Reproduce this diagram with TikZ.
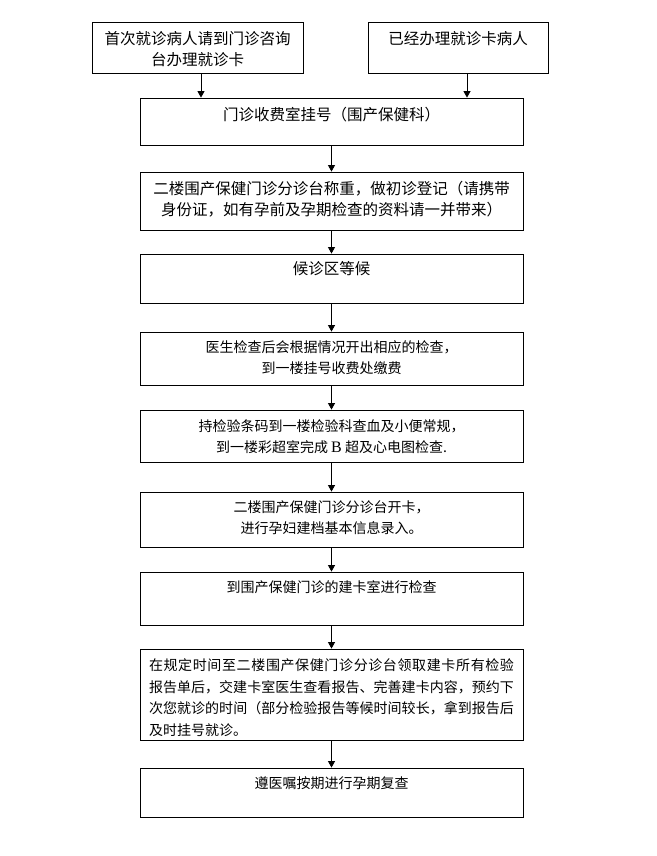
\documentclass[tikz,border=0pt]{standalone}
\usepackage{fontspec}
\setmainfont{Noto Sans CJK SC}
\newfontfamily\latinserif{Liberation Serif}
\usetikzlibrary{arrows.meta}
\newcommand\cjkjustify{\XeTeXlinebreaklocale "zh"\XeTeXlinebreakskip=0pt plus 3pt\relax}

\tikzset{
  stepbox/.style={draw, line width=0.8pt, minimum width=383pt, inner sep=0pt},
  bigtxt/.style={inner sep=0pt, anchor=north, align=center, font=\fontsize{15.5}{21}\selectfont},
  smalltxt/.style={inner sep=0pt, anchor=north, align=center, font=\fontsize{14}{21}\selectfont},
  arr/.style={-{Triangle[width=7pt,length=6.5pt]}, line width=0.8pt}
}

\begin{document}
\begin{tikzpicture}[x=1pt, y=-1pt]
	\useasboundingbox (0,0) rectangle (656,856);
	% the two ways in
	\node[draw, line width=0.8pt, minimum width=211pt, minimum height=51pt, inner sep=0pt] (first) at (197.5,47.5) {};
	\node[bigtxt] (first-t) at ([yshift=-10pt]first.north) {首次就诊病人请到门诊咨询\\台办理就诊卡};
	\node[draw, line width=0.8pt, minimum width=180pt, minimum height=51pt, inner sep=0pt] (repeat) at (458,47.5) {};
	\node[bigtxt] (repeat-t) at ([yshift=-10pt]repeat.north) {已经办理就诊卡病人};
	% main steps
	\node[stepbox, minimum height=47pt] (reg) at (331.5,121.5) {};
	\node[bigtxt] (reg-t) at ([yshift=-9pt]reg.north) {门诊收费室挂号（围产保健科）};
	\node[stepbox, minimum height=58pt] (weigh) at (331.5,201) {};
	\node[bigtxt] (weigh-t) at ([yshift=-9pt]weigh.north) {二楼围产保健门诊分诊台称重，做初诊登记（请携带\\身份证，如有孕前及孕期检查的资料请一并带来）};
	\node[stepbox, minimum height=49pt] (wait) at (331.5,278.5) {};
	\node[bigtxt] (wait-t) at ([yshift=-8pt]wait.north) {候诊区等候};
	\node[stepbox, minimum height=53pt] (pay) at (331.5,358.5) {};
	\node[smalltxt] (pay-t) at ([yshift=-9pt]pay.north) {医生检查后会根据情况开出相应的检查，\\到一楼挂号收费处缴费};
	\node[stepbox, minimum height=52pt] (test) at (331.5,436) {};
	\node[smalltxt] (test-t) at ([yshift=-10pt]test.north) {持检验条码到一楼检验科查血及小便常规，\\到一楼彩超室完成 {\latinserif\fontsize{16}{21}\selectfont B} 超及心电图检查.};
	\node[stepbox, minimum height=55pt] (card) at (331.5,519.5) {};
	\node[smalltxt] (card-t) at ([yshift=-9pt]card.north) {二楼围产保健门诊分诊台开卡，\\进行孕妇建档基本信息录入。};
	\node[stepbox, minimum height=53pt] (room) at (331.5,598.5) {};
	\node[smalltxt] (room-t) at ([yshift=-9pt]room.north) {到围产保健门诊的建卡室进行检查};
	\node[stepbox, minimum height=91pt] (report) at (331.5,694.5) {};
	\node[smalltxt, text width=365pt, align=justify, font=\fontsize{14}{21.5}\selectfont\cjkjustify] (report-t) at ([yshift=-10pt]report.north)
		{在规定时间至二楼围产保健门诊分诊台领取建卡所有检验\linebreak
		报告单后，交建卡室医生查看报告、完善建卡内容，预约下\linebreak
		次您就诊的时间（部分检验报告等候时间较长，拿到报告后\linebreak
		及时挂号就诊。};
	\node[stepbox, minimum height=49pt] (review) at (331.5,792.5) {};
	\node[smalltxt] (review-t) at ([yshift=-9pt]review.north) {遵医嘱按期进行孕期复查};
	% arrows
	\draw[arr] ([xshift=3.5pt]first.south) -- ([xshift=3.5pt]first.south |- reg.north);
	\draw[arr] ([xshift=9pt]repeat.south) -- ([xshift=9pt]repeat.south |- reg.north);
	\foreach \a/\b in {reg/weigh, weigh/wait, wait/pay, pay/test, test/card, card/room, room/report, report/review}
		\draw[arr] (\a) -- (\b);
\end{tikzpicture}
\end{document}
